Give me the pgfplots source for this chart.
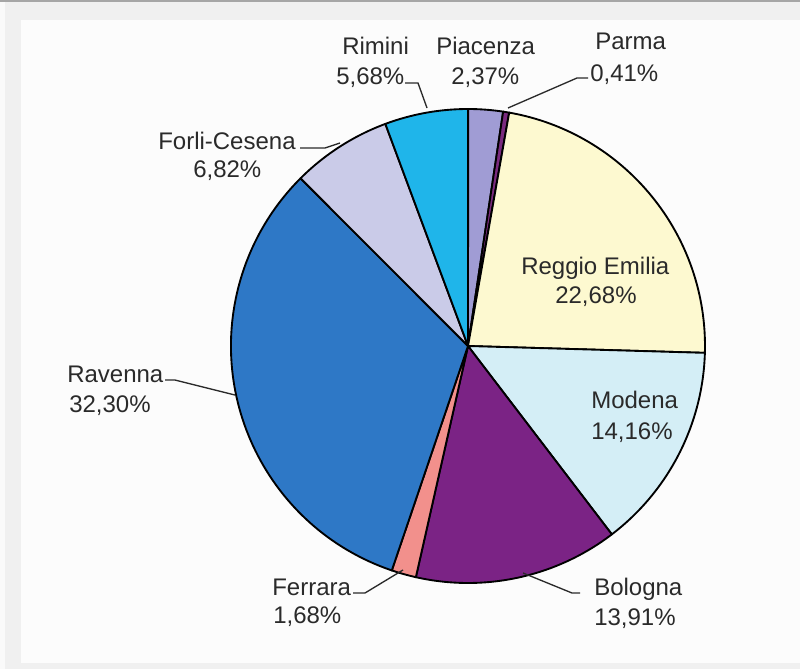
\documentclass[border=0pt]{standalone}
\usepackage{pgfplots}
\usepackage{pgfplotstable}
\pgfplotsset{compat=1.18}
\usepackage{fontspec}
\setmainfont{Liberation Sans}

\definecolor{cPia}{HTML}{A09CD4}
\definecolor{cPar}{HTML}{7A2A7E}
\definecolor{cReg}{HTML}{FDF9D0}
\definecolor{cMod}{HTML}{D4EEF6}
\definecolor{cBol}{HTML}{7B2385}
\definecolor{cFer}{HTML}{F2908C}
\definecolor{cRav}{HTML}{2E78C6}
\definecolor{cFor}{HTML}{CACBE8}
\definecolor{cRim}{HTML}{1FB5EA}
\definecolor{txt}{HTML}{2A2A2A}
\definecolor{bg}{HTML}{F0F0F0}

\tikzset{
  lbl/.style={anchor=base west, inner sep=0pt, text=txt,
      font=\fontsize{18}{21}\selectfont},
  lead/.style={draw=txt, line width=1pt},
}

% shares, clockwise from 12 o'clock
\pgfplotstableread[col sep=comma]{
name,value,color
Piacenza,2.37,cPia
Parma,0.41,cPar
Reggio Emilia,22.68,cReg
Modena,14.16,cMod
Bologna,13.91,cBol
Ferrara,1.68,cFer
Ravenna,32.30,cRav
Forli-Cesena,6.82,cFor
Rimini,5.68,cRim
}\piedata

\begin{document}
\begin{tikzpicture}
\begin{axis}[
    scale only axis,
    width=600pt, height=501.75pt,
    xmin=0, xmax=800, ymin=0, ymax=669,
    hide axis, clip=false,
  ]
% frame
\fill[bg] (axis cs:0,0) rectangle (axis cs:800,669);
\fill[black!35] (axis cs:0,667) rectangle (axis cs:800,669);
\fill[white!98!black] (axis cs:0,0) rectangle (axis cs:5,667);
\fill[white!99!black] (axis cs:21,6) rectangle (axis cs:800,649);

% slices
\gdef\cum{0}
\pgfplotsinvokeforeach{0,...,8}{
  \pgfplotstablegetelem{#1}{value}\of\piedata \let\val\pgfplotsretval
  \pgfplotstablegetelem{#1}{color}\of\piedata \let\col\pgfplotsretval
  \pgfmathsetmacro\aone{90-3.6*\cum}
  \pgfmathsetmacro\atwo{90-3.6*(\cum+\val)}
  \pgfmathsetmacro\newcum{\cum+\val}\global\let\cum\newcum
  \edef\slice{\noexpand\filldraw[fill=\col, draw=black, line width=1.4pt, line join=round]
    (axis cs:468,323) -- ++(\aone:177.75pt)
    arc[start angle=\aone, end angle=\atwo, radius=177.75pt] -- cycle;}
  \slice
}

% labels
\node[lbl] at (axis cs:342,614) {Rimini};
\node[lbl] at (axis cs:336,584) {5,68\%};
\node[lbl] at (axis cs:436,614) {Piacenza};
\node[lbl] at (axis cs:451,584) {2,37\%};
\node[lbl] at (axis cs:595,619) {Parma};
\node[lbl] at (axis cs:590,587) {0,41\%};
\node[lbl] at (axis cs:158,519) {Forli-Cesena};
\node[lbl] at (axis cs:193,491) {6,82\%};
\node[lbl] at (axis cs:67,287) {Ravenna};
\node[lbl] at (axis cs:69,257) {32,30\%};
\node[lbl] at (axis cs:272,74) {Ferrara};
\node[lbl] at (axis cs:273,46) {1,68\%};
\node[lbl] at (axis cs:594,74) {Bologna};
\node[lbl] at (axis cs:594,44) {13,91\%};
\node[lbl] at (axis cs:591,261) {Modena};
\node[lbl] at (axis cs:591,230) {14,16\%};
\node[lbl] at (axis cs:521,395) {Reggio Emilia};
\node[lbl] at (axis cs:555,366) {22,68\%};

% leader lines
\draw[lead] (axis cs:405,586) -- (axis cs:418,586) -- (axis cs:427,561);
\draw[lead] (axis cs:588,591) -- (axis cs:577,591) -- (axis cs:508,561);
\draw[lead] (axis cs:300,521) -- (axis cs:325,521) -- (axis cs:340,526);
\draw[lead] (axis cs:165,289) -- (axis cs:175,289) -- (axis cs:235,274);
\draw[lead] (axis cs:353,76) -- (axis cs:365,76) -- (axis cs:403,99);
\draw[lead] (axis cs:580,76) -- (axis cs:572,76) -- (axis cs:523,96);
\end{axis}
\end{tikzpicture}
\end{document}
